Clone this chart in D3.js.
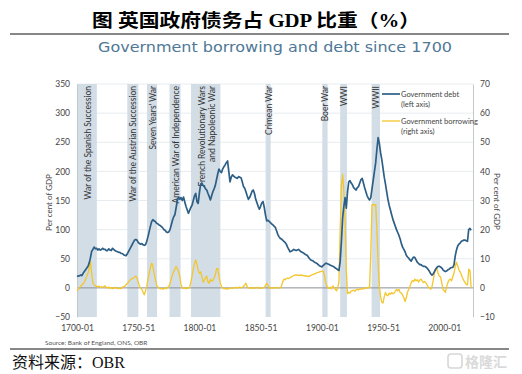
<!DOCTYPE html>
<html>
<head>
<meta charset="utf-8">
<script src="https://cdn.jsdelivr.net/npm/d3@7"></script>
<style>
  body { margin: 0; background: #fff; }
  svg { display: block; }
</style>
</head>
<body>
<svg id="chart" width="522" height="374"></svg>
<script>
// debt, per cent of GDP (left axis)
const debt = [
  [1700,21],[1701,20],[1702,21],[1703,22],[1704,21],[1705,25],[1706,28],[1707,31],[1708,34],[1709,37],
  [1710,43],[1711,52],[1712,63],[1713,66],[1714,70],[1715,67],[1716,68],[1717,65],[1718,67],[1719,65],
  [1720,66],[1721,68],[1722,66],[1723,66],[1724,64],[1725,64],[1726,67],[1727,65],[1728,64],[1729,68],
  [1730,66],[1731,64],[1732,63],[1733,62],[1734,61],[1735,61],[1736,59],[1737,59],[1738,57],[1739,56],
  [1740,55],[1741,58],[1742,62],[1743,66],[1744,70],[1745,74],[1746,78],[1747,82],[1748,83],[1749,82],
  [1750,78],[1751,76],[1752,75],[1753,76],[1754,74],[1755,73],[1756,74],[1757,80],[1758,88],[1759,97],
  [1760,106],[1761,114],[1762,117],[1763,115],[1764,114],[1765,111],[1766,110],[1767,108],[1768,107],[1769,105],
  [1770,103],[1771,100],[1772,99],[1773,96],[1774,95],[1775,96],[1776,100],[1777,108],[1778,116],[1779,122],
  [1780,126],[1781,138],[1782,150],[1783,156],[1784,152],[1785,155],[1786,150],[1787,156],[1788,148],[1789,140],
  [1790,134],[1791,128],[1792,133],[1793,138],[1794,142],[1795,150],[1796,158],[1797,162],[1798,148],[1799,145],
  [1800,163],[1801,178],[1802,180],[1803,176],[1804,174],[1805,170],[1806,168],[1807,162],[1808,157],[1809,151],
  [1810,158],[1811,165],[1812,170],[1813,176],[1814,186],[1815,196],[1816,204],[1817,200],[1818,198],[1819,204],
  [1820,208],[1821,211],[1822,215],[1823,218],[1824,200],[1825,182],[1826,190],[1827,194],[1828,192],[1829,190],
  [1830,189],[1831,188],[1832,191],[1833,190],[1834,189],[1835,182],[1836,174],[1837,171],[1838,165],[1839,158],
  [1840,152],[1841,155],[1842,160],[1843,166],[1844,168],[1845,162],[1846,152],[1847,146],[1848,140],[1849,135],
  [1850,140],[1851,146],[1852,148],[1853,138],[1854,125],[1855,115],[1856,116],[1857,114],[1858,112],[1859,110],
  [1860,108],[1861,106],[1862,104],[1863,98],[1864,92],[1865,88],[1866,85],[1867,84],[1868,82],[1869,80],
  [1870,78],[1871,75],[1872,70],[1873,66],[1874,62],[1875,63],[1876,64],[1877,66],[1878,65],[1879,64],
  [1880,65],[1881,66],[1882,64],[1883,62],[1884,61],[1885,60],[1886,58],[1887,57],[1888,56],[1889,53],
  [1890,50],[1891,48],[1892,47],[1893,46],[1894,44],[1895,43],[1896,42],[1897,40],[1898,38],[1899,37],
  [1900,36],[1901,38],[1902,40],[1903,42],[1904,42],[1905,41],[1906,40],[1907,39],[1908,38],[1909,37],
  [1910,36],[1911,34],[1912,33],[1913,31],[1914,30],[1915,45],[1916,80],[1917,120],[1918,140],[1919,155],
  [1920,137],[1921,165],[1922,182],[1923,184],[1924,180],[1925,177],[1926,172],[1927,170],[1928,168],[1929,172],
  [1930,174],[1931,180],[1932,186],[1933,188],[1934,180],[1935,172],[1936,165],[1937,158],[1938,154],[1939,151],
  [1940,155],[1941,170],[1942,185],[1943,200],[1944,215],[1945,238],[1946,258],[1947,248],[1948,232],[1949,220],
  [1950,205],[1951,190],[1952,178],[1953,165],[1954,152],[1955,142],[1956,134],[1957,126],[1958,118],[1959,112],
  [1960,106],[1961,100],[1962,95],[1963,90],[1964,84],[1965,76],[1966,70],[1967,66],[1968,62],[1969,56],
  [1970,53],[1971,51],[1972,48],[1973,46],[1974,50],[1975,53],[1976,52],[1977,48],[1978,44],[1979,42],
  [1980,40],[1981,40],[1982,38],[1983,37],[1984,37],[1985,36],[1986,34],[1987,31],[1988,28],[1989,24],
  [1990,22],[1991,24],[1992,28],[1993,32],[1994,35],[1995,37],[1996,37],[1997,36],[1998,34],[1999,31],
  [2000,29],[2001,28],[2002,29],[2003,31],[2004,32],[2005,34],[2006,35],[2007,35],[2008,40],[2009,55],
  [2010,65],[2011,72],[2012,75],[2013,77],[2014,80],[2015,81],[2016,82],[2017,82],[2018,81],[2019,80],
  [2020,100],[2021,102],[2022,99]
];

// borrowing, per cent of GDP (right axis)
const borrowing = [
  [1700,-1],[1701,-0.5],[1702,0],[1703,0.5],[1704,1],[1705,1.5],[1706,2],[1707,3],[1708,4],[1709,5],
  [1710,7],[1711,9],[1712,5],[1713,1.6],[1714,1],[1715,0.8],[1716,0.5],[1717,0.3],[1718,0.6],[1719,0.2],
  [1720,0.4],[1721,0.1],[1722,0.5],[1723,0.7],[1724,0.2],[1725,0],[1726,0.3],[1727,-0.2],[1728,0.1],[1729,-0.3],
  [1730,0],[1731,0.2],[1732,-0.2],[1733,0],[1734,-0.3],[1735,-0.1],[1736,-0.3],[1737,0.2],[1738,0.4],[1739,0.5],
  [1740,1],[1741,1.5],[1742,2],[1743,2.5],[1744,3],[1745,3.2],[1746,3.3],[1747,3.8],[1748,4],[1749,3.5],
  [1750,2],[1751,0.5],[1752,0],[1753,-0.5],[1754,-1.5],[1755,-2.4],[1756,-1],[1757,0.5],[1758,3],[1759,5],
  [1760,7],[1761,8.5],[1762,7.5],[1763,5],[1764,3],[1765,1],[1766,0.3],[1767,0],[1768,-0.3],[1769,-0.2],
  [1770,-0.4],[1771,-0.3],[1772,0],[1773,-0.3],[1774,0.2],[1775,0.5],[1776,1.5],[1777,3],[1778,4.5],[1779,5.5],
  [1780,6.5],[1781,7.3],[1782,6.5],[1783,5.5],[1784,4],[1785,1],[1786,0],[1787,-0.2],[1788,0],[1789,-0.3],
  [1790,0],[1791,-0.2],[1792,0.2],[1793,2],[1794,4],[1795,6.4],[1796,8.5],[1797,9.6],[1798,8],[1799,6],
  [1800,5],[1801,5.5],[1802,4],[1803,2],[1804,2.5],[1805,3.5],[1806,4],[1807,2],[1808,1.6],[1809,3],
  [1810,2.2],[1811,2.5],[1812,3.4],[1813,4.5],[1814,6.5],[1815,6.7],[1816,4],[1817,1.8],[1818,0.5],[1819,0],
  [1820,-0.3],[1821,-0.2],[1822,-0.4],[1823,-0.3],[1824,-0.3],[1825,-0.1],[1826,0],[1827,-0.2],[1828,0.1],[1829,0],
  [1830,0.2],[1831,-0.1],[1832,0.1],[1833,0.3],[1834,0],[1835,0.2],[1836,0.5],[1837,1],[1838,1.6],[1839,0.5],
  [1840,0],[1841,-0.2],[1842,0.1],[1843,-0.1],[1844,0],[1845,-0.2],[1846,0],[1847,0.2],[1848,0],[1849,-0.2],
  [1850,0],[1851,-0.1],[1852,0],[1853,0.2],[1854,0.8],[1855,1.6],[1856,0.8],[1857,0],[1858,-0.2],[1859,0],
  [1860,0.1],[1861,-0.1],[1862,0],[1863,0.2],[1864,0],[1865,-0.2],[1866,0],[1867,0.5],[1868,2],[1869,3],
  [1870,2.8],[1871,3.2],[1872,3.4],[1873,3.2],[1874,3.5],[1875,3.8],[1876,4],[1877,4.2],[1878,4.4],[1879,4.5],
  [1880,4.3],[1881,4.4],[1882,4.2],[1883,4.5],[1884,4.2],[1885,4.3],[1886,4],[1887,4.2],[1888,3.9],[1889,4],
  [1890,4],[1891,4.3],[1892,4.5],[1893,4.6],[1894,4.8],[1895,5],[1896,5.2],[1897,5.3],[1898,5.5],[1899,5.6],
  [1900,5.7],[1901,5.8],[1902,4.5],[1903,2],[1904,0.8],[1905,0],[1906,-0.2],[1907,0.2],[1908,-0.3],[1909,0.7],
  [1910,0],[1911,-0.5],[1912,-1],[1913,0],[1914,2],[1915,20],[1916,35],[1917,39],[1918,33],[1919,23],
  [1920,6],[1921,-2],[1922,-1.5],[1923,-1.8],[1924,-1],[1925,-1],[1926,-0.8],[1927,-1.2],[1928,-0.6],[1929,-0.5],
  [1930,-0.7],[1931,-0.3],[1932,-0.5],[1933,-0.2],[1934,-0.4],[1935,0],[1936,-0.2],[1937,0],[1938,0.2],[1939,0],
  [1940,12],[1941,28.5],[1942,28.7],[1943,28.3],[1944,28.6],[1945,20],[1946,8],[1947,0.5],[1948,-3],[1949,-5],
  [1950,-5.2],[1951,-3],[1952,-1.6],[1953,-2.5],[1954,-2.7],[1955,-1.8],[1956,-2.2],[1957,-1.6],[1958,-2],[1959,-1.8],
  [1960,-1.2],[1961,-0.5],[1962,-1],[1963,-0.5],[1964,-1.6],[1965,-1.8],[1966,-2.5],[1967,-3.4],[1968,-4.7],[1969,-3.4],
  [1970,-1.5],[1971,-0.5],[1972,0.5],[1973,1.8],[1974,2.5],[1975,2.2],[1976,3],[1977,2.4],[1978,2.8],[1979,2],
  [1980,2.7],[1981,3],[1982,2.4],[1983,1.8],[1984,2.2],[1985,1.8],[1986,1],[1987,0.3],[1988,0],[1989,-0.5],
  [1990,0.5],[1991,2.5],[1992,5],[1993,6.5],[1994,6.7],[1995,5],[1996,4],[1997,3.8],[1998,1.7],[1999,-0.5],
  [2000,-1],[2001,-1.5],[2002,0.5],[2003,1.8],[2004,2.7],[2005,3],[2006,2.4],[2007,3.8],[2008,5],[2009,7.5],
  [2010,8.8],[2011,7.5],[2012,6.2],[2013,5.5],[2014,4.5],[2015,3.4],[2016,2.5],[2017,1.8],[2018,1.2],[2019,1],
  [2020,6.4],[2021,6],[2022,0]
];

// shaded wars: start, end, label lines
const wars = [
  { from: 1700.3, to: 1716.2, label: ['War of the Spanish Succession'] },
  { from: 1741.1, to: 1750.1, label: ['War of the Austrian Succession'] },
  { from: 1757.2, to: 1765.4, label: ["Seven Years' War"] },
  { from: 1775.6, to: 1784.6, label: ['American War of Independence'] },
  { from: 1793.1, to: 1817.1, label: ['French Revolutionary Wars', 'and  Napoleonic War'] },
  { from: 1854.1, to: 1858.2, label: ['Crimean War'] },
  { from: 1900.4, to: 1904.7, label: ['Boer War'] },
  { from: 1915.0, to: 1920.5, label: ['WWI'] },
  { from: 1940.7, to: 1947.5, label: ['WWII'] }
];

const xTicks = [1700, 1750, 1800, 1850, 1900, 1950, 2000];
const xTickLabels = ['1700-01', '1750-51', '1800-01', '1850-51', '1900-01', '1950-51', '2000-01'];
const leftTicks = [-50, 0, 50, 100, 150, 200, 250, 300, 350];
const rightTicks = [-10, 0, 10, 20, 30, 40, 50, 60, 70];

const debtColor = '#2d5f86';
const borrowColor = '#f3c62c';
const bandColor = '#d2dde6';
const font = 'Lato, "Open Sans", sans-serif';

var svg = d3.select('#chart');

var plotTop = 84, plotBottom = 317, plotLeft = 77, plotRight = 473;

var x = d3.scaleLinear().domain([1700, 2023.5]).range([plotLeft, plotRight]);
var yL = d3.scaleLinear().domain([-50, 350]).range([plotBottom, plotTop]);
var yR = d3.scaleLinear().domain([-10, 70]).range([plotBottom, plotTop]);

// header
svg.append('text')
    .attr('x', 256).attr('y', 27)
    .attr('text-anchor', 'middle')
    .style('font-family', '"Liberation Serif", "Noto Sans CJK SC", serif')
    .style('font-weight', 'bold')
    .style('font-size', '18px')
    .attr('textLength', 328).attr('lengthAdjust', 'spacingAndGlyphs')
    .text('图  英国政府债务占 GDP 比重（%）');

svg.append('line')
    .attr('x1', 10).attr('x2', 509).attr('y1', 34).attr('y2', 34)
    .attr('stroke', '#111').attr('stroke-width', 1);

svg.append('text')
    .attr('x', 98).attr('y', 52)
    .style('font-family', '"DejaVu Sans", sans-serif')
    .style('font-size', '14.5px')
    .attr('fill', '#4f7897')
    .attr('textLength', 354).attr('lengthAdjust', 'spacingAndGlyphs')
    .text('Government borrowing and debt since 1700');

// gridlines
svg.append('g')
    .selectAll('line')
    .data(leftTicks.filter(d => d !== 0 && d !== -50))
    .join('line')
    .attr('x1', plotLeft).attr('x2', plotRight)
    .attr('y1', d => yL(d)).attr('y2', d => yL(d))
    .attr('stroke', '#e8ecef').attr('stroke-width', 1);

// war bands
var bands = svg.append('g');
bands.selectAll('rect')
    .data(wars)
    .join('rect')
    .attr('x', d => x(d.from))
    .attr('width', d => x(d.to) - x(d.from))
    .attr('y', plotTop)
    .attr('height', plotBottom - plotTop)
    .attr('fill', bandColor);

bands.selectAll('g.lab')
    .data(wars)
    .join('g')
    .attr('class', 'lab')
    .each(function (d) {
        var cx = (x(d.from) + x(d.to)) / 2;
        var n = d.label.length;
        d3.select(this).selectAll('text')
            .data(d.label)
            .join('text')
            .attr('transform', (t, i) => {
                var off = n > 1 ? (i === 0 ? -3.5 : 6.5) : 0.5;
                return 'translate(' + (cx + off) + ',' + (plotTop + 2) + ') rotate(-90)';
            })
            .attr('text-anchor', 'end')
            .attr('dominant-baseline', 'central')
            .style('font-family', font)
            .style('font-size', '8.5px')
            .attr('fill', '#333')
            .text(t => t);
    });

// zero line
svg.append('line')
    .attr('x1', plotLeft).attr('x2', plotRight)
    .attr('y1', yL(0)).attr('y2', yL(0))
    .attr('stroke', '#8a8f94').attr('stroke-width', 1);

// axes
var axL = svg.append('g')
    .attr('transform', 'translate(' + plotLeft + ',0)')
    .call(d3.axisLeft(yL).tickValues(leftTicks).tickSize(0).tickPadding(7));
var axR = svg.append('g')
    .attr('transform', 'translate(' + plotRight + ',0)')
    .call(d3.axisRight(yR).tickValues(rightTicks).tickSize(0).tickPadding(7));
var axB = svg.append('g')
    .attr('transform', 'translate(0,' + (plotBottom + 2) + ')')
    .call(d3.axisBottom(x).tickValues(xTicks).tickSize(0).tickPadding(6)
        .tickFormat((d, i) => xTickLabels[i]));
axB.select('.domain').remove();

[axL, axR].forEach(a => a.select('.domain').attr('stroke', '#c3c8cc').attr('stroke-width', 1));
[axL, axR, axB].forEach(a => a.selectAll('text')
    .style('font-family', font).style('font-size', '8.5px').attr('fill', '#444'));

svg.append('text')
    .attr('transform', 'translate(52,' + ((plotTop + plotBottom) / 2 + 2) + ') rotate(-90)')
    .attr('text-anchor', 'middle')
    .style('font-family', font).style('font-size', '8px').attr('fill', '#444')
    .text('Per cent of GDP');
svg.append('text')
    .attr('transform', 'translate(494,' + ((plotTop + plotBottom) / 2 + 1) + ') rotate(90)')
    .attr('text-anchor', 'middle')
    .style('font-family', font).style('font-size', '8px').attr('fill', '#444')
    .text('Per cent of GDP');

// series
svg.append('path')
    .datum(borrowing)
    .attr('fill', 'none')
    .attr('stroke', borrowColor)
    .attr('stroke-width', 1.3)
    .attr('stroke-linejoin', 'round')
    .attr('d', d3.line().x(d => x(d[0])).y(d => yR(d[1])));

svg.append('path')
    .datum(debt)
    .attr('fill', 'none')
    .attr('stroke', debtColor)
    .attr('stroke-width', 1.7)
    .attr('stroke-linejoin', 'round')
    .attr('d', d3.line().x(d => x(d[0])).y(d => yL(d[1])));

// legend
var legend = [
  { color: debtColor, w: 1.7, y: 94, lines: ['Government debt', '(left axis)'] },
  { color: borrowColor, w: 1.3, y: 121, lines: ['Government borrowing', '(right axis)'] }
];
var lg = svg.append('g').selectAll('g').data(legend).join('g');
lg.append('rect')
    .attr('x', 381).attr('y', d => d.y - 4).attr('width', 90).attr('height', 20)
    .attr('fill', '#fff');
lg.append('line')
    .attr('x1', 382).attr('x2', 400)
    .attr('y1', d => d.y).attr('y2', d => d.y)
    .attr('stroke', d => d.color).attr('stroke-width', d => d.w);
lg.selectAll('text')
    .data(d => d.lines.map((t, i) => ({ t: t, y: d.y + 3 + i * 10 })))
    .join('text')
    .attr('x', 401).attr('y', d => d.y)
    .style('font-family', font).style('font-size', '7.5px').attr('fill', '#444')
    .text(d => d.t);

// source + footer
svg.append('text')
    .attr('x', 45).attr('y', 345)
    .style('font-family', font).style('font-size', '6.5px').attr('fill', '#555')
    .text('Source: Bank of England, ONS, OBR');

svg.append('line')
    .attr('x1', 10).attr('x2', 509).attr('y1', 349).attr('y2', 349)
    .attr('stroke', '#111').attr('stroke-width', 1);

svg.append('text')
    .attr('x', 12).attr('y', 368)
    .style('font-family', '"Liberation Serif", "Noto Sans CJK SC", serif')
    .style('font-size', '16px')
    .attr('fill', '#111')
    .text('资料来源：OBR');

// watermark
var wm = svg.append('g').attr('opacity', 0.55);
wm.append('rect')
    .attr('x', 448).attr('y', 354).attr('width', 14).attr('height', 14).attr('rx', 3)
    .attr('fill', 'none').attr('stroke', '#b8b8b8').attr('stroke-width', 1.6);
wm.append('text')
    .attr('x', 465).attr('y', 367)
    .style('font-family', '"Noto Sans CJK SC", sans-serif')
    .style('font-size', '14px').style('font-weight', 'bold')
    .attr('fill', '#bdbdbd')
    .text('格隆汇');
</script>
</body>
</html>
